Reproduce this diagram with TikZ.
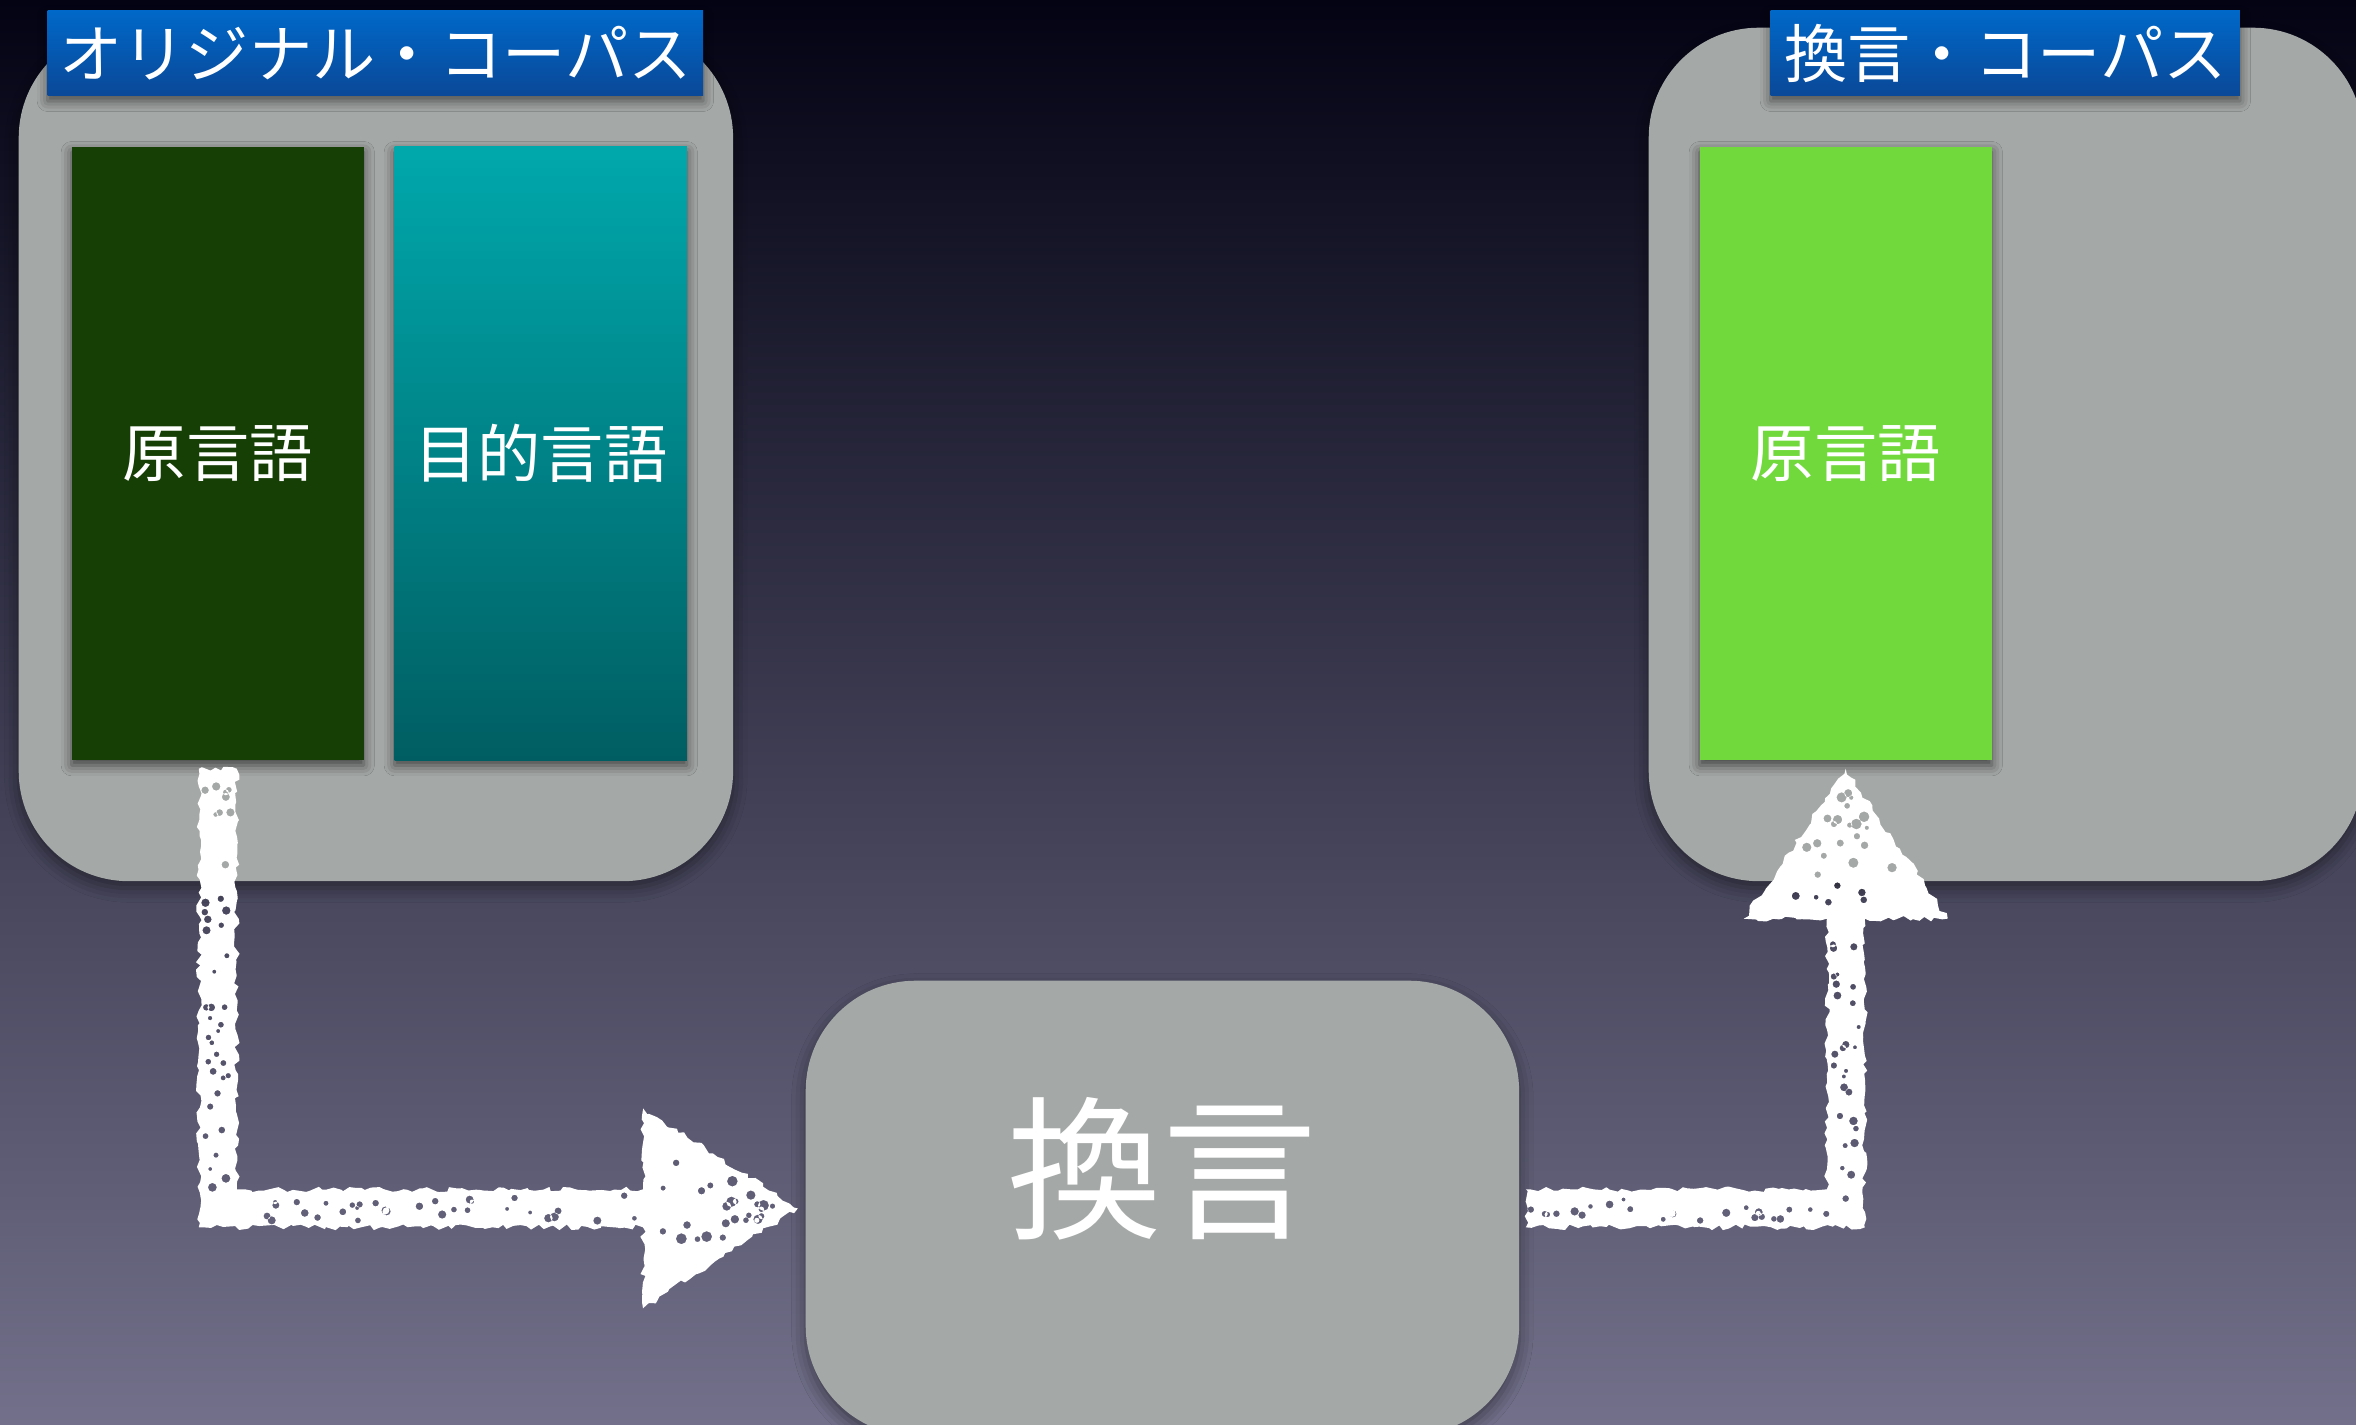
\documentclass[tikz,border=0pt]{standalone}
\usepackage{fontspec}
\newfontfamily\jp{Noto Sans CJK JP}
\usetikzlibrary{calc,shadows.blur,decorations.pathmorphing}
\definecolor{bgtop}{RGB}{3,3,20}
\definecolor{bgmid}{RGB}{62,60,94}
\definecolor{bgbot}{RGB}{114,112,138}
\definecolor{boxgray}{RGB}{164,168,166}
\definecolor{darkgreen}{RGB}{22,63,6}
\definecolor{tealtop}{RGB}{0,168,172}
\definecolor{tealbot}{RGB}{0,94,98}
\definecolor{lightgreen}{RGB}{114,217,60}
\definecolor{labeltop}{RGB}{0,104,200}
\definecolor{labelbot}{RGB}{10,72,152}
\begin{document}
\begin{tikzpicture}[x=0.01cm,y=-0.01cm,
  container/.style={fill=boxgray, rounded corners=1.1cm, anchor=north west, inner sep=0pt,
    minimum width=7.14cm, minimum height=8.53cm,
    blur shadow={shadow xshift=0pt, shadow yshift=-2pt, shadow blur radius=4pt, shadow opacity=45}},
  panel/.style={anchor=north west, inner sep=0pt, minimum width=2.92cm, minimum height=6.13cm,
    text=white, font=\jp\fontsize{18}{18}\selectfont,
    blur shadow={shadow xshift=0pt, shadow yshift=-1.5pt, shadow blur radius=3pt, shadow opacity=60}},
  tag/.style={anchor=north west, inner sep=0pt, minimum height=0.85cm, top color=labeltop, bottom color=labelbot,
    text=white, font=\jp\fontsize{18}{18}\selectfont,
    blur shadow={shadow xshift=0pt, shadow yshift=-1.5pt, shadow blur radius=3pt, shadow opacity=55}},
  chalk/.style={fill=white, even odd rule},
  rough/.style={decoration={random steps, segment length=1.6pt, amplitude=0.8pt}}
]
\pgfmathsetseed{7}
\useasboundingbox (0,0) rectangle (2356,1425);
\clip (0,0) rectangle (2356,1425);
\shade[top color=bgtop, middle color=bgmid, bottom color=bgbot] (0,0) rectangle (2356,1425);

% containers
\node[container] (leftC) at (18,27) {};
\node[container] (rightC) at (1648,27) {};
\node[container, minimum width=7.13cm, minimum height=4.55cm] (mid) at (805,980) {};

% panels
\node[panel, fill=darkgreen] (src) at (71,146) {原言語};
\node[panel, top color=tealtop, bottom color=tealbot] (tgt) at (394,146) {目的言語};
\node[panel, fill=lightgreen] (para) at (1699,146) {原言語};

% tags
\node[tag, minimum width=6.55cm] (tagL) at (47,10) {オリジナル・コーパス};
\node[tag, minimum width=4.69cm] (tagR) at (1770,10) {換言・コーパス};

% center label
\node[text=white, font=\jp\fontsize{44}{44}\selectfont, inner sep=0pt] (midlabel) at ($(mid.center)+(0,-40)$) {換言};

% arrow 1
\coordinate (S) at ($(src.south)+(0,8)$);
\coordinate (C) at (S |- mid.west);
\coordinate (T) at ($(mid.west)+(-7,0)$);
\path[chalk] decorate[rough]{ ($(S)+(-19,0)$) -- ($(C)+(-19,19)$) -- ($(T)+(-155,19)$) -- ($(T)+(-155,100)$) -- (T)
  -- ($(T)+(-155,-100)$) -- ($(T)+(-155,-19)$) -- ($(C)+(19,-19)$) -- ($(S)+(19,0)$) -- cycle }
  \foreach \i [evaluate=\i as \t using rnd, evaluate=\i as \v using rand, evaluate=\i as \r using 2+2.5*rnd] in {1,...,40}
    { ($(S)!\t!(C)+({13*\v},0)$) circle[radius=\r] }
  \foreach \i [evaluate=\i as \t using 0.72*rnd, evaluate=\i as \v using rand, evaluate=\i as \r using 2+2.5*rnd] in {1,...,32}
    { ($(C)!\t!(T)+(0,{13*\v})$) circle[radius=\r] }
  \foreach \i [evaluate=\i as \t using rnd, evaluate=\i as \v using rand, evaluate=\i as \r using 2+3.5*rnd] in {1,...,26}
    { ($(T)+({-145+125*\t},{(1-\t)*78*\v})$) circle[radius=\r] };

% arrow 2
\coordinate (E) at ($(mid.east)+(6,0)$);
\coordinate (C2) at (para.south |- E);
\coordinate (T2) at ($(para.south)+(0,8)$);
\path[chalk] decorate[rough]{ ($(E)+(0,-19)$) -- ($(C2)+(-19,-19)$) -- ($(T2)+(-19,150)$) -- ($(T2)+(-102,150)$) -- (T2)
  -- ($(T2)+(102,150)$) -- ($(T2)+(19,150)$) -- ($(C2)+(19,19)$) -- ($(E)+(0,19)$) -- cycle }
  \foreach \i [evaluate=\i as \t using rnd, evaluate=\i as \v using rand, evaluate=\i as \r using 2+2.5*rnd] in {1,...,26}
    { ($(E)!\t!(C2)+(0,{13*\v})$) circle[radius=\r] }
  \foreach \i [evaluate=\i as \t using 0.05+0.6*rnd, evaluate=\i as \v using rand, evaluate=\i as \r using 2+2.5*rnd] in {1,...,26}
    { ($(C2)!\t!(T2)+({13*\v},0)$) circle[radius=\r] }
  \foreach \i [evaluate=\i as \t using rnd, evaluate=\i as \v using rand, evaluate=\i as \r using 2+3.5*rnd] in {1,...,26}
    { ($(T2)+({(1-\t)*80*\v},{140-120*\t})$) circle[radius=\r] };
\end{tikzpicture}
\end{document}
